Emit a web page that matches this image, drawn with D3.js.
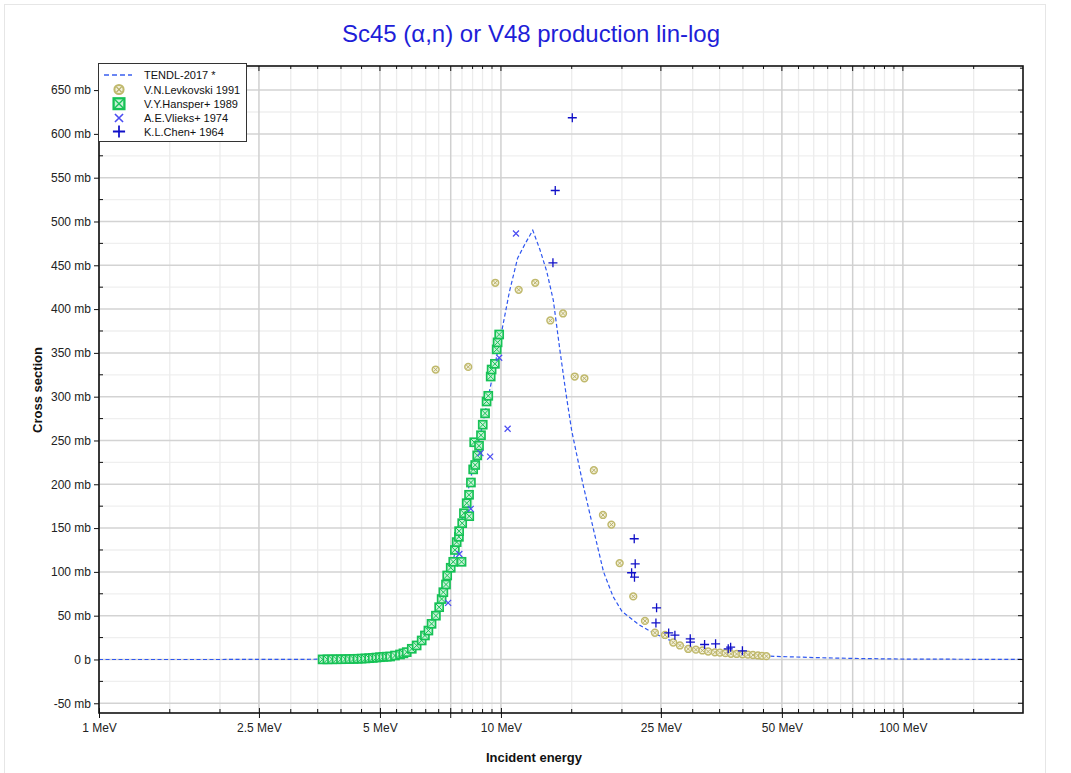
<!DOCTYPE html>
<html><head><meta charset="utf-8">
<script src="https://cdn.jsdelivr.net/npm/d3@7"></script>
<style>body{margin:0;background:#fff;font-family:"Liberation Sans",Arial,sans-serif}</style>
</head><body><svg id="c" width="1071" height="773"></svg>
<script>
// ---- data ----
const tendlE = [1,2,3,3.5,4,4.5,5,5.5,6,6.5,7,7.5,8,8.5,9,9.5,10,10.5,11,11.5,12,12.5,13,13.5,14,14.5,15,16,17,18,19,20,22,24,26,28,30,32.5,35,40,45,50,60,70,80,100,150,200];
const tendlS = [0,0,0.05,0.3,0.8,1.6,2.7,6,12,28,53,100,160,217,268,320,370,420,458,475,490,468,443,410,355,305,261,200,148,100,72,55,40,30,23,17,13,10.3,7.5,5,4,3.3,2.2,1.5,1,0.5,0.2,0.1];

const levE = [6.88,8.29,9.68,11.07,12.17,13.27,14.27,15.26,16.13,17.03,17.94,18.83,19.74,21.34,22.82,24.16,25.59,26.83,27.88,29.24,30.55,31.71,32.78,34.06,35.06,36.18,37.34,38.58,39.88,41.16,42.36,43.6,44.6,45.76];
const levS = [331,334,430,422,430,387,395,323,321,216,165,154,110,72,44,30.5,28,19.4,16,12,11.2,10.3,9.1,8.2,7.8,7.2,6.5,6.3,5.9,5.5,5.1,4.6,4.2,3.8];

const hanE = [3.6,3.7,3.8,3.9,4.0,4.1,4.2,4.3,4.4,4.5,4.6,4.7,4.8,4.9,5.0,5.1,5.2,5.30,5.45,5.61,5.72,5.83,6.00,6.17,6.35,6.47,6.60,6.72,6.89,7.02,7.12,7.19,7.30,7.35,7.50,7.61,7.68,7.76,7.86,7.87,7.98,8.01,8.09,8.22,8.34,8.33,8.42,8.53,8.58,8.63,8.73,8.82,8.92,9.01,9.13,9.21,9.30,9.43,9.48,9.66,9.76,9.81,9.90];
const hanS = [0.1,0.15,0.2,0.25,0.3,0.4,0.5,0.6,0.8,1.0,1.2,1.5,1.8,2.2,2.6,3.0,3.2,3.4,4.5,5.7,7,8.4,12.2,16,21.7,27.4,33,40.7,50,59.7,69,76.8,85.6,95.9,104.7,111.5,125,134,140,146.5,111.5,155.6,167,178.4,163.6,188,202,217,248,222,233,244,256,268,281,294.5,301,323,331,337.5,354,362,371];

const vliE = [7.39,7.88,8.41,8.89,9.40,9.90,10.39,10.90];
const vliS = [64.7,120.4,172,235.5,231.5,344.4,263.4,486.3];

const chenE = [13.47,13.65,15.05,21.14,21.46,21.49,21.58,24.30,24.39,26.14,27.09,29.58,29.61,32.11,34.20,36.77,37.28,39.88];
const chenS = [452.8,535.4,618.4,99,137.8,94,109.2,41.7,59,30.3,27.7,23.6,19.8,17.1,17.9,12.2,14,9.9];

const xLabelTicks = [1,2.5,5,10,25,50,100];
const xLabelText = ["1 MeV","2.5 MeV","5 MeV","10 MeV","25 MeV","50 MeV","100 MeV"];
const xMajorNoLabel = [7.5,75];
const xMinorTicks = [1.5,2,3,3.5,4,4.5,5.5,6,6.5,7,8,8.5,9,9.5,15,20,30,35,40,45,55,60,65,70,80,85,90,95,150];
const yMajorTicks = [-50,0,50,100,150,200,250,300,350,400,450,500,550,600,650];
const yMinorTicks = [-25,25,75,125,175,225,275,325,375,425,475,525,575,625,675];

const seriesNames = ["TENDL-2017 *","V.N.Levkovski 1991","V.Y.Hansper+ 1989","A.E.Vlieks+ 1974","K.L.Chen+ 1964"];
const titleText = "Sc45 (\u03b1,n) or V48 production lin-log";

// ---- layout ----
const L = 99, R = 1023, T = 66, B = 713;
const svg = d3.select("#c");
const x = d3.scaleLog().domain([1,199]).range([L,R]);
const y = d3.scaleLinear().domain([-61.1,677.5]).range([B,T]);
const yFmt = v => v === 0 ? "0 b" : v + " mb";

svg.append("rect").attr("x",4.5).attr("y",4.5).attr("width",1041).attr("height",775)
  .attr("fill","#fff").attr("stroke","#e6e6e6");

// grid
const g = svg.append("g");
g.selectAll(".ym").data(yMinorTicks).join("line")
  .attr("x1",L).attr("x2",R).attr("y1",d=>y(d)).attr("y2",d=>y(d))
  .attr("stroke","#efefef").attr("stroke-width",1.3);
g.selectAll(".xm").data(xMinorTicks).join("line")
  .attr("y1",T).attr("y2",B).attr("x1",d=>x(d)).attr("x2",d=>x(d))
  .attr("stroke","#ececec").attr("stroke-width",1.3);
g.selectAll(".yM").data(yMajorTicks).join("line")
  .attr("x1",L).attr("x2",R).attr("y1",d=>y(d)).attr("y2",d=>y(d))
  .attr("stroke","#d3d3d3").attr("stroke-width",1.5);
g.selectAll(".xM").data(xLabelTicks.concat(xMajorNoLabel)).join("line")
  .attr("y1",T).attr("y2",B).attr("x1",d=>x(d)).attr("x2",d=>x(d))
  .attr("stroke","#d0d0d0").attr("stroke-width",1.5);

// clip
svg.append("clipPath").attr("id","pc").append("rect").attr("x",L).attr("y",T).attr("width",R-L).attr("height",B-T);
const plot = svg.append("g").attr("clip-path","url(#pc)");

// TENDL line
const tendl = tendlE.map((e,i)=>[e,tendlS[i]]);
plot.append("path").datum(tendl)
  .attr("d", d3.line().x(d=>x(d[0])).y(d=>y(d[1])))
  .attr("fill","none").attr("stroke","#2f57f0").attr("stroke-width",1.2).attr("stroke-dasharray","4,2.5");

// markers
function drawLev(sel){
  sel.append("circle").attr("r",3.4).attr("fill","#f3f1dc").attr("stroke","#c0b96c").attr("stroke-width",1.5);
  sel.append("path").attr("d","M-1.9,-1.9L1.9,1.9M-1.9,1.9L1.9,-1.9").attr("stroke","#b4ac62").attr("stroke-width",0.9);
}
function drawHan(sel){
  sel.append("rect").attr("x",-4).attr("y",-4).attr("width",8).attr("height",8)
    .attr("fill","#c8f2d6").attr("stroke","#16c256").attr("stroke-width",1.7);
  sel.append("path").attr("d","M-3.5,-3.5L3.5,3.5M-3.5,3.5L3.5,-3.5").attr("stroke","#16c256").attr("stroke-width",1);
}
function drawVli(sel){
  sel.append("path").attr("d","M-3,-3L3,3M-3,3L3,-3").attr("stroke","#4a4cf2").attr("stroke-width",1.2).attr("fill","none");
}
function drawChen(sel){
  sel.append("path").attr("d","M-4.5,0L4.5,0M0,-4.5L0,4.5").attr("stroke","#1010c8").attr("stroke-width",1.3).attr("fill","none");
}
function series(E,S,fn){
  const pts = E.map((e,i)=>[e,S[i]]);
  plot.append("g").selectAll("g").data(pts).join("g")
    .attr("transform",d=>`translate(${x(d[0])},${y(d[1])})`).call(fn);
}
series(hanE,hanS,drawHan);
series(levE,levS,drawLev);
series(vliE,vliS,drawVli);
series(chenE,chenS,drawChen);

// frame
svg.append("rect").attr("x",L).attr("y",T).attr("width",R-L).attr("height",B-T)
  .attr("fill","none").attr("stroke","#111").attr("stroke-width",1.6);

// axes
const fontAx = "Liberation Sans, Arial, sans-serif";
const xAxis = d3.axisBottom(x).tickValues(xLabelTicks).tickSize(5)
  .tickFormat((d,i)=>xLabelText[i]);
const xa = svg.append("g").attr("transform",`translate(0,${B})`).call(xAxis);
xa.select(".domain").remove();
xa.selectAll("text").attr("font-size",12).attr("font-family",fontAx).attr("fill","#222").attr("dy","0.95em");
xa.selectAll("line").attr("stroke","#111").attr("y1",-5);
svg.append("g").selectAll("line").data(xMajorNoLabel).join("line")
  .attr("x1",d=>x(d)).attr("x2",d=>x(d)).attr("y1",B-5).attr("y2",B+5).attr("stroke","#111");
svg.append("g").selectAll("line").data(xMinorTicks).join("line")
  .attr("x1",d=>x(d)).attr("x2",d=>x(d)).attr("y1",B-4).attr("y2",B).attr("stroke","#111");
svg.append("g").selectAll("line").data(xLabelTicks.concat(xMajorNoLabel)).join("line")
  .attr("x1",d=>x(d)).attr("x2",d=>x(d)).attr("y1",T).attr("y2",T+5).attr("stroke","#111");
svg.append("g").selectAll("line").data(xMinorTicks).join("line")
  .attr("x1",d=>x(d)).attr("x2",d=>x(d)).attr("y1",T).attr("y2",T+3).attr("stroke","#111");

const yAxis = d3.axisLeft(y).tickValues(yMajorTicks).tickSize(5).tickFormat(yFmt);
const ya = svg.append("g").attr("transform",`translate(${L},0)`).call(yAxis);
ya.select(".domain").remove();
ya.selectAll("text").attr("font-size",12).attr("font-family",fontAx).attr("fill","#222");
ya.selectAll("line").attr("stroke","#111");
svg.append("g").selectAll("line").data(yMinorTicks).join("line")
  .attr("x1",L).attr("x2",L+4).attr("y1",d=>y(d)).attr("y2",d=>y(d)).attr("stroke","#111");
svg.append("g").selectAll("line").data(yMajorTicks).join("line")
  .attr("x1",R-5).attr("x2",R).attr("y1",d=>y(d)).attr("y2",d=>y(d)).attr("stroke","#111");
svg.append("g").selectAll("line").data(yMinorTicks).join("line")
  .attr("x1",R-3).attr("x2",R).attr("y1",d=>y(d)).attr("y2",d=>y(d)).attr("stroke","#111");

// titles
svg.append("text").attr("x",531).attr("y",42).attr("text-anchor","middle")
  .attr("font-size",24).attr("font-family",fontAx).attr("fill","#1e1ed8").text(titleText);
svg.append("text").attr("x",534).attr("y",762).attr("text-anchor","middle")
  .attr("font-size",13).attr("font-weight","bold").attr("font-family",fontAx).attr("fill","#111").text("Incident energy");
svg.append("text").attr("transform","translate(42,390) rotate(-90)").attr("text-anchor","middle")
  .attr("font-size",13).attr("font-weight","bold").attr("font-family",fontAx).attr("fill","#111").text("Cross section");

// legend
const lg = svg.append("g");
lg.append("rect").attr("x",98.5).attr("y",63.5).attr("width",148).attr("height",78)
  .attr("fill","#fff").attr("stroke","#333").attr("stroke-width",1);
const rowY = [75,89.5,103.7,118,131.5];
lg.append("line").attr("x1",104).attr("x2",132).attr("y1",rowY[0]).attr("y2",rowY[0])
  .attr("stroke","#3a5ff0").attr("stroke-width",1.3).attr("stroke-dasharray","5,3");
const fns = [null, drawLev, drawHan, drawVli, drawChen];
for (let i=1;i<5;i++){
  lg.append("g").attr("transform",`translate(119,${rowY[i]}) scale(1.35)`).call(fns[i]);
}
lg.selectAll("text.l").data(seriesNames).join("text")
  .attr("x",144).attr("y",(d,i)=>rowY[i]+4).attr("font-size",11).attr("font-family",fontAx)
  .attr("fill","#111").text(d=>d);
</script>
</body></html>
